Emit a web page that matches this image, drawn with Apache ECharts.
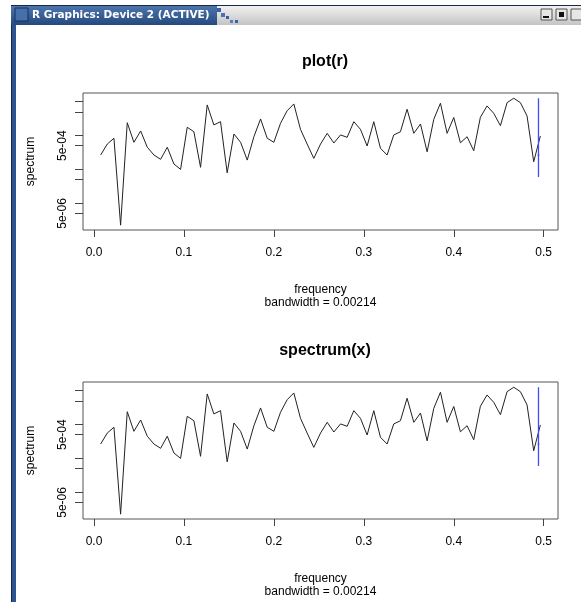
<!DOCTYPE html>
<html>
<head>
<meta charset="utf-8">
<script src="https://cdn.jsdelivr.net/npm/echarts@6/dist/echarts.min.js"></script>
<style>
html,body{margin:0;padding:0;background:#fff}
#main{width:581px;height:602px}
</style>
</head>
<body>
<div id="main"></div>
<script>
// frequencies k/135
var freq = [0.0074,0.0148,0.0222,0.0296,0.0370,0.0444,0.0519,0.0593,0.0667,0.0741,
            0.0815,0.0889,0.0963,0.1037,0.1111,0.1185,0.1259,0.1333,0.1407,0.1481,
            0.1556,0.1630,0.1704,0.1778,0.1852,0.1926,0.2000,0.2074,0.2148,0.2222,
            0.2296,0.2370,0.2444,0.2519,0.2593,0.2667,0.2741,0.2815,0.2889,0.2963,
            0.3037,0.3111,0.3185,0.3259,0.3333,0.3407,0.3481,0.3556,0.3630,0.3704,
            0.3778,0.3852,0.3926,0.4000,0.4074,0.4148,0.4222,0.4296,0.4370,0.4444,
            0.4519,0.4593,0.4667,0.4741,0.4815,0.4889,0.4963];

var spec = [2.65e-4,5.6e-4,8.3e-4,2.25e-6,2.39e-3,6.3e-4,1.36e-3,4.5e-4,2.65e-4,1.98e-4,
            4.5e-4,1.44e-4,1.0e-4,1.75e-3,1.29e-3,1.15e-4,8.0e-3,2.05e-3,2.56e-3,7.9e-5,
            1.11e-3,6.3e-4,1.88e-4,9.2e-4,3.08e-3,8.3e-4,6.3e-4,2.3e-3,5.4e-3,8.55e-3,
            1.52e-3,5.6e-4,2.11e-4,5.6e-4,1.16e-3,6.0e-4,1.04e-3,8.85e-4,2.56e-3,1.52e-3,
            4.9e-4,2.56e-3,4.2e-4,2.65e-4,1.04e-3,1.29e-3,5.96e-3,1.16e-3,2.19e-3,3.3e-4,
            3.01e-3,8.97e-3,1.16e-3,3.41e-3,6.1e-4,9.2e-4,3.55e-4,3.45e-3,7.46e-3,4.54e-3,
            1.95e-3,9.33e-3,1.26e-2,9.33e-3,3.78e-3,1.68e-4,9.7e-4];

// confidence bar (blue): x position, half bandwidth, lower / centre / upper
var ciX = 0.4942;
var ciHalfBw = 0.00107;
var ciLow = 6.0e-5, ciMid = 2.65e-4, ciHigh = 1.26e-2;

var xTicks = [0, 0.1, 0.2, 0.3, 0.4, 0.5];
var yTicks = [5e-6, 1e-5, 5e-5, 1e-4, 5e-4, 1e-3, 5e-3, 1e-2];
var yLabels = [5e-6, 5e-4];
var titles = ['plot(r)', 'spectrum(x)'];
var xName = 'frequency\nbandwidth = 0.00214';
var yName = 'spectrum';

var FONT = "'Liberation Sans', Arial, sans-serif";
var tops = [93, 382];

var chart = echarts.init(document.getElementById('main'));

function expLabel(v){
    var e = Math.floor(Math.log10(v) + 1e-9);
    var m = Math.round(v / Math.pow(10, e));
    var s = Math.abs(e) < 10 ? '0' + Math.abs(e) : '' + Math.abs(e);
    return m + 'e' + (e < 0 ? '-' : '+') + s;
}

var lineData = freq.map(function(f, i){ return [f, spec[i]]; });

var option = {
    animation: false,
    backgroundColor: '#fff',
    title: [],
    grid: [],
    xAxis: [],
    yAxis: [],
    series: [],
    graphic: []
};

for (var p = 0; p < 2; p++) {
    option.title.push({
        text: titles[p],
        left: 320,
        top: tops[p] - 44,
        textAlign: 'center',
        textStyle: {fontFamily: FONT, fontSize: 16, fontWeight: 'bold', color: '#000'}
    });
    option.grid.push({
        left: 83, top: tops[p], width: 475, height: 137,
        show: true, borderColor: '#555', borderWidth: 1, backgroundColor: 'transparent'
    });
    option.xAxis.push({
        gridIndex: p, type: 'value', min: -0.0122, max: 0.5159,
        splitLine: {show: false},
        axisLine: {show: false, onZero: false},
        axisTick: {show: true, inside: false, length: 7, customValues: xTicks,
                   lineStyle: {color: '#444', width: 1}},
        axisLabel: {margin: 17, customValues: xTicks, color: '#000',
                    fontFamily: FONT, fontSize: 12,
                    formatter: function(v){ return v.toFixed(1); }},
        name: xName, nameLocation: 'middle', nameGap: 53,
        nameTextStyle: {fontFamily: FONT, fontSize: 12, color: '#000', lineHeight: 13}
    });
    option.yAxis.push({
        gridIndex: p, type: 'log', logBase: 10, min: 1.62e-6, max: 1.8e-2,
        splitLine: {show: false},
        minorTick: {show: false},
        axisLine: {show: false, onZero: false},
        axisTick: {show: true, inside: false, length: 8, customValues: yTicks,
                   lineStyle: {color: '#444', width: 1}},
        axisLabel: {margin: 14, rotate: 90, customValues: yLabels, color: '#000',
                    fontFamily: FONT, fontSize: 12, formatter: expLabel},
        name: yName, nameLocation: 'middle', nameGap: 46, nameRotate: 90,
        nameTextStyle: {fontFamily: FONT, fontSize: 12, color: '#000'}
    });
    option.series.push({
        type: 'line', xAxisIndex: p, yAxisIndex: p, data: lineData,
        symbol: 'none', lineStyle: {color: '#222', width: 1}, silent: true
    });
    option.series.push({
        type: 'line', xAxisIndex: p, yAxisIndex: p,
        data: [[ciX, ciLow], [ciX, ciHigh]],
        symbol: 'none', lineStyle: {color: '#4646ff', width: 1.3}, silent: true
    });
    option.series.push({
        type: 'line', xAxisIndex: p, yAxisIndex: p,
        data: [[ciX - ciHalfBw, ciMid], [ciX + ciHalfBw, ciMid]],
        symbol: 'none', lineStyle: {color: '#4646ff', width: 1}, silent: true
    });
}

// window frame of the R graphics device
option.graphic = [
    {type: 'rect', shape: {x: 11, y: 5, width: 5, height: 597},
     style: {fill: '#2d5490'}},
    {type: 'rect', shape: {x: 11, y: 5, width: 1, height: 597},
     style: {fill: '#16294a'}},
    {type: 'rect', shape: {x: 11, y: 5, width: 570, height: 20},
     style: {fill: new echarts.graphic.LinearGradient(0, 0, 0, 1, [
         {offset: 0, color: '#f4f4f4'}, {offset: 1, color: '#c4c4c4'}])}},
    {type: 'rect', shape: {x: 11, y: 5, width: 206, height: 20},
     style: {fill: new echarts.graphic.LinearGradient(0, 0, 0, 1, [
         {offset: 0, color: '#4f78ae'}, {offset: 1, color: '#25497e'}])}},
    {type: 'rect', shape: {x: 217, y: 8, width: 4, height: 4}, style: {fill: '#3a62a0'}},
    {type: 'rect', shape: {x: 221, y: 13, width: 4, height: 4}, style: {fill: '#4a72ad'}},
    {type: 'rect', shape: {x: 226, y: 16, width: 3, height: 3}, style: {fill: '#3a62a0'}},
    {type: 'rect', shape: {x: 230, y: 20, width: 3, height: 3}, style: {fill: '#5a80b8'}},
    {type: 'rect', shape: {x: 235, y: 20, width: 3, height: 3}, style: {fill: '#3a62a0'}},
    {type: 'rect', shape: {x: 11, y: 5, width: 570, height: 1}, style: {fill: '#16294a'}},
    {type: 'rect', shape: {x: 15, y: 8, width: 13, height: 13},
     style: {fill: '#4670aa', stroke: '#17305a', lineWidth: 1}},
    {type: 'text', x: 32, y: 15,
     style: {text: 'R Graphics: Device 2 (ACTIVE)', fill: '#fff',
             font: "bold 10.5px 'DejaVu Sans', sans-serif", verticalAlign: 'middle'}},
    {type: 'rect', shape: {x: 541, y: 9, width: 11, height: 11},
     style: {fill: '#e6e6e6', stroke: '#555', lineWidth: 1}},
    {type: 'rect', shape: {x: 543, y: 16, width: 6, height: 2}, style: {fill: '#111'}},
    {type: 'rect', shape: {x: 556, y: 9, width: 11, height: 11},
     style: {fill: '#e6e6e6', stroke: '#555', lineWidth: 1}},
    {type: 'rect', shape: {x: 559, y: 12, width: 5, height: 5}, style: {fill: '#111'}},
    {type: 'rect', shape: {x: 571, y: 9, width: 11, height: 11},
     style: {fill: '#e6e6e6', stroke: '#555', lineWidth: 1}}
];

chart.setOption(option);
</script>
</body>
</html>
